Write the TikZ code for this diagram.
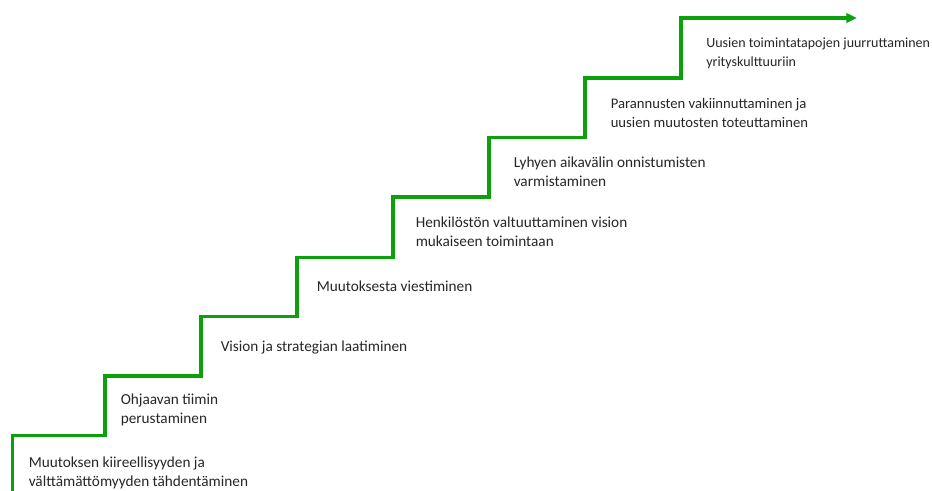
\documentclass[tikz,border=0pt]{standalone}
\usepackage{fontspec}
\setmainfont{Carlito}
\usetikzlibrary{arrows.meta}
\definecolor{stairgreen}{RGB}{12,160,12}
\definecolor{labelgray}{RGB}{38,38,38}
\tikzset{
  stair/.style={draw=stairgreen, line width=2.3pt, line join=miter,
    -{Triangle[length=8pt,width=7pt]}},
  steplabel/.style={anchor=base west, inner sep=0pt, text=labelgray,
    font=\fontsize{11.45pt}{14pt}\selectfont},
  smalllabel/.style={steplabel, font=\fontsize{11pt}{14pt}\selectfont},
  toplabel/.style={steplabel, font=\fontsize{10.5pt}{14pt}\selectfont}
}
\newcommand{\twolines}[2]{\begin{tabular}[t]{@{}l@{}}#1\\#2\end{tabular}}
\begin{document}
\begin{tikzpicture}[x=0.75pt,y=-0.75pt]
  \useasboundingbox (0,0) rectangle (932,491);
  % stair corners
  \coordinate (s0) at (12.5,495);
  \coordinate (s1) at (12.5,435.5);
  \coordinate (s2) at (105,435.5);
  \coordinate (s3) at (105,376);
  \coordinate (s4) at (201,376);
  \coordinate (s5) at (201,316.5);
  \coordinate (s6) at (297,316.5);
  \coordinate (s7) at (297,257.5);
  \coordinate (s8) at (393,257.5);
  \coordinate (s9) at (393,197);
  \coordinate (s10) at (489,197);
  \coordinate (s11) at (489,137.5);
  \coordinate (s12) at (585,137.5);
  \coordinate (s13) at (585,78);
  \coordinate (s14) at (681,78);
  \coordinate (s15) at (681,18);
  \coordinate (s16) at (857,18);
  \draw[stair] (s0) -- (s1) -- (s2) -- (s3) -- (s4) -- (s5) -- (s6) -- (s7)
    -- (s8) -- (s9) -- (s10) -- (s11) -- (s12) -- (s13) -- (s14) -- (s15) -- (s16);

  % step labels
  \node[steplabel] (l1) at (28.5,467.5)
    {\twolines{Muutoksen kiireellisyyden ja}{välttämättömyyden tähdentäminen}};
  \node[steplabel] (l2) at (120.5,404.5)
    {\twolines{Ohjaavan tiimin}{perustaminen}};
  \node[steplabel] (l3) at (220.5,352) {Vision ja strategian laatiminen};
  \node[steplabel] (l4) at (316.5,291.5) {Muutoksesta viestiminen};
  \node[steplabel] (l5) at (415.5,227.5)
    {\twolines{Henkilöstön valtuuttaminen vision}{mukaiseen toimintaan}};
  \node[steplabel] (l6) at (513.5,168)
    {\twolines{Lyhyen aikavälin onnistumisten}{varmistaminen}};
  \node[smalllabel] (l7) at (610.5,109)
    {\twolines{Parannusten vakiinnuttaminen ja}{uusien muutosten toteuttaminen}};
  \node[toplabel] (l8) at (706,48)
    {\twolines{Uusien toimintatapojen juurruttaminen}{yrityskulttuuriin}};
\end{tikzpicture}
\end{document}
